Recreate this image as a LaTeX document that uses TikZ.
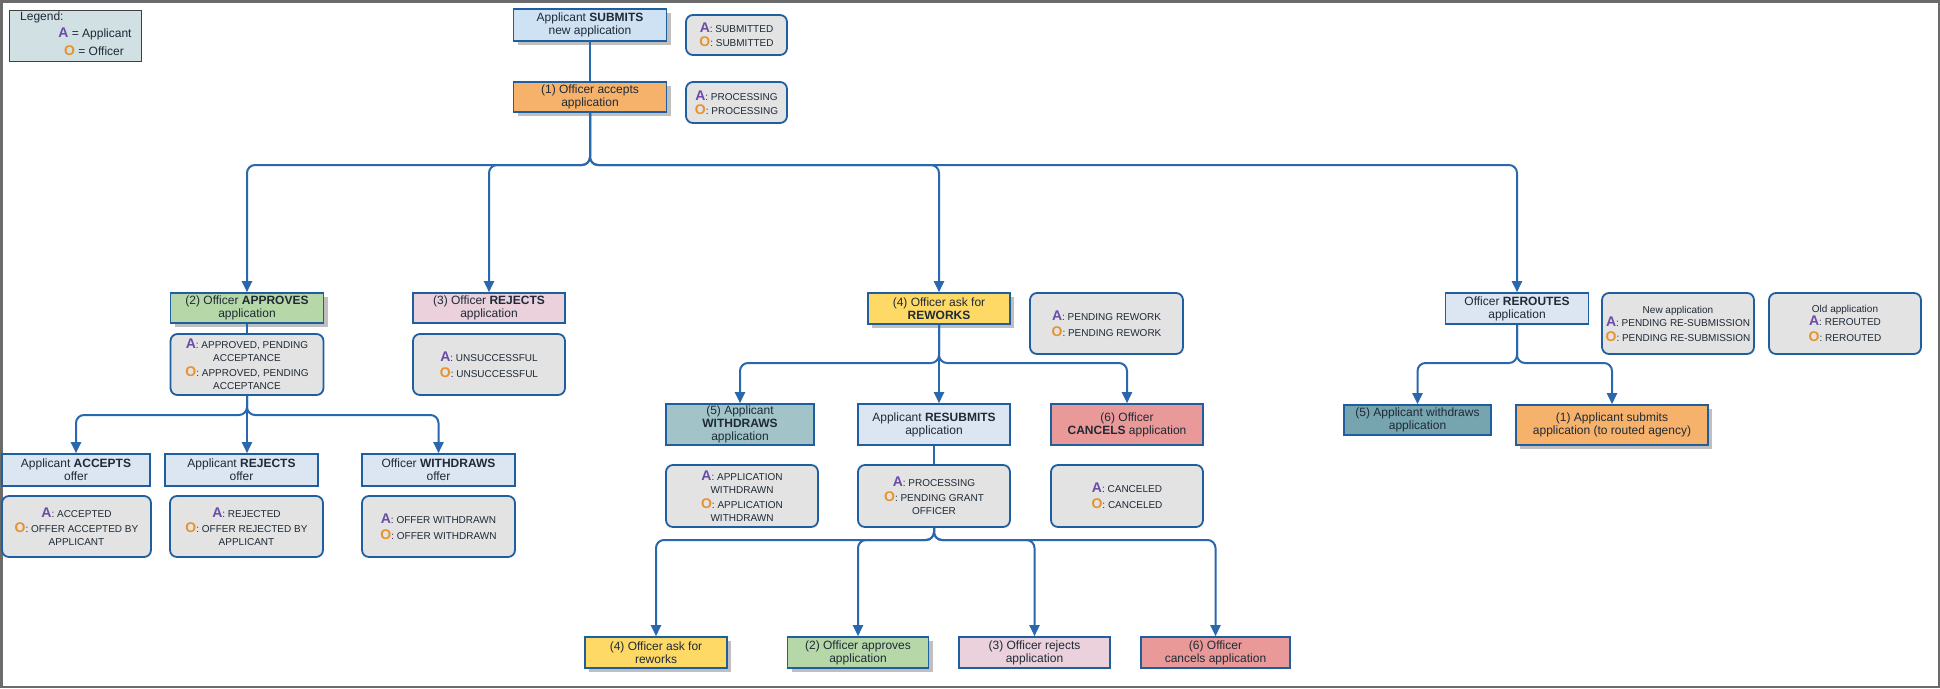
\documentclass[tikz,border=0pt]{standalone}
\usepackage{fontspec}
\setmainfont{Liberation Sans}
\usetikzlibrary{arrows.meta,shadows}
\definecolor{boxblue}{HTML}{1F5E9F}
\definecolor{lineblue}{HTML}{2A68AE}
\definecolor{statgray}{HTML}{E3E3E3}
\definecolor{txt}{HTML}{1F2A36}
\definecolor{apurple}{HTML}{6A4BA8}
\definecolor{oorange}{HTML}{E8912D}
\definecolor{fsub}{HTML}{CFE2F3}
\definecolor{flight}{HTML}{DCE6F2}
\definecolor{forange}{HTML}{F6B26B}
\definecolor{fgreen}{HTML}{B6D7A8}
\definecolor{fpink}{HTML}{EAD1DC}
\definecolor{fyellow}{HTML}{FFD966}
\definecolor{fteal}{HTML}{A2C4C9}
\definecolor{fdteal}{HTML}{76A5AF}
\definecolor{fred}{HTML}{EA9999}
\definecolor{flegend}{HTML}{D0E0E3}
\definecolor{frame}{HTML}{6B6B6B}
\newcommand{\lblA}{{\fontsize{14}{14}\selectfont\bfseries\color{apurple}A}}
\newcommand{\lblO}{{\fontsize{14}{14}\selectfont\bfseries\color{oorange}O}}
\tikzset{
  sz/.style 2 args={minimum width=#1pt, minimum height=#2pt},
  box/.style={draw=boxblue, line width=1.6pt, inner sep=1pt, align=center,
    font=\fontsize{12}{13}\selectfont, text=txt},
  shad/.style={drop shadow={shadow xshift=4pt, shadow yshift=-4pt, fill=black!25, opacity=1}},
  stat/.style={draw=boxblue, line width=1.8pt, rounded corners=7pt, fill=statgray,
    align=center, font=\fontsize{10}{13}\selectfont, text=txt, inner sep=1pt},
  conn/.style={draw=lineblue, line width=2pt, rounded corners=8pt},
  arr/.style={conn, -{Triangle[length=11pt,width=10pt]}},
}
\begin{document}
\begin{tikzpicture}[x=1pt,y=-1pt]
\useasboundingbox (0,0) rectangle (1940,688);
\fill[white] (0,0) rectangle (1940,688);
\draw[frame, line width=2.5pt] (1.25,1.25) rectangle (1938.75,686.75);

% legend
\node[draw=black!75, line width=1pt, fill=flegend, sz={132}{51}] (leg) at (75,35.5) {};
\node[anchor=west, text=txt, font=\fontsize{12}{13}\selectfont, inner sep=0pt] (legt) at (20,17) {Legend:};
\node[text=txt, font=\fontsize{12}{13}\selectfont, inner sep=0pt] (lega) at (95,34) {\lblA{} = Applicant};
\node[text=txt, font=\fontsize{12}{13}\selectfont, inner sep=0pt] (lego) at (94,51) {\lblO{} = Officer};

% top
\node[box, shad, fill=fsub, sz={153}{32}] (sub) at (590,25) {Applicant \textbf{SUBMITS}\\new application};
\node[stat, sz={101}{40}] (st1) at (736.5,35) {\lblA: SUBMITTED\\[1pt]\lblO: SUBMITTED};
\node[box, shad, fill=forange, sz={153}{30}] (acc) at (590,97) {(1) Officer accepts\\application};
\node[stat, sz={101}{41}] (st2) at (736.5,102.5) {\lblA: PROCESSING\\[1pt]\lblO: PROCESSING};

% level 2
\node[box, shad, fill=fgreen, sz={153}{30}] (appr) at (247,308) {(2) Officer \textbf{APPROVES}\\application};
\node[stat, sz={153}{61}] (stap) at (247,364.5) {\lblA: APPROVED, PENDING\\ACCEPTANCE\\[2pt]\lblO: APPROVED, PENDING\\ACCEPTANCE};
\node[box, fill=fpink, sz={152}{30}] (rej) at (489,308) {(3) Officer \textbf{REJECTS}\\application};
\node[stat, sz={152}{61}] (strej) at (489,364.5) {\lblA: UNSUCCESSFUL\\[3pt]\lblO: UNSUCCESSFUL};
\node[box, shad, fill=fyellow, sz={142}{31}] (rew) at (939,308.5) {(4) Officer ask for\\\textbf{REWORKS}};
\node[stat, sz={153}{61}] (strew) at (1106.5,323.5) {\lblA: PENDING REWORK\\[3pt]\lblO: PENDING REWORK};
\node[box, fill=flight, sz={143}{31}] (rer) at (1517,308.5) {Officer \textbf{REROUTES}\\application};
\node[stat, sz={152}{61}] (stnew) at (1678,323.5) {{\fontsize{10}{12}\selectfont New application}\\\lblA: PENDING RE-SUBMISSION\\[2pt]\lblO: PENDING RE-SUBMISSION};
\node[stat, sz={152}{61}] (stold) at (1845,323.5) {{\fontsize{10}{12}\selectfont Old application}\\\lblA: REROUTED\\[3pt]\lblO: REROUTED};

% approves children
\node[box, fill=flight, sz={148}{32}] (accoff) at (76,470) {Applicant \textbf{ACCEPTS}\\offer};
\node[stat, sz={149}{61}] (stacc) at (76.5,526.5) {\lblA: ACCEPTED\\[2pt]\lblO: OFFER ACCEPTED BY\\APPLICANT};
\node[box, fill=flight, sz={153}{32}] (rejoff) at (241.5,470) {Applicant \textbf{REJECTS}\\offer};
\node[stat, sz={153}{61}] (strejoff) at (246.5,526.5) {\lblA: REJECTED\\[2pt]\lblO: OFFER REJECTED BY\\APPLICANT};
\node[box, fill=flight, sz={153}{32}] (wdoff) at (438.5,470) {Officer \textbf{WITHDRAWS}\\offer};
\node[stat, sz={153}{61}] (stwd) at (438.5,526.5) {\lblA: OFFER WITHDRAWN\\[3pt]\lblO: OFFER WITHDRAWN};

% rework children
\node[box, fill=fteal, sz={148}{41}] (wda) at (740,424.5) {(5) Applicant\\\textbf{WITHDRAWS}\\application};
\node[box, fill=flight, sz={152}{41}] (resub) at (934,424.5) {Applicant \textbf{RESUBMITS}\\application};
\node[box, fill=fred, sz={152}{41}] (canc) at (1127,424.5) {(6) Officer\\\textbf{CANCELS} application};
\node[stat, sz={152}{62}] (stwda) at (742,496) {\lblA: APPLICATION\\WITHDRAWN\\[2pt]\lblO: APPLICATION\\WITHDRAWN};
\node[stat, sz={152}{62}] (stres) at (934,496) {\lblA: PROCESSING\\[2pt]\lblO: PENDING GRANT\\OFFICER};
\node[stat, sz={152}{62}] (stcan) at (1127,496) {\lblA: CANCELED\\[3pt]\lblO: CANCELED};

% resubmit children
\node[box, shad, fill=fyellow, sz={142}{31}] (b4) at (656,652.5) {(4) Officer ask for\\reworks};
\node[box, shad, fill=fgreen, sz={141}{31}] (b2) at (858,652.5) {(2) Officer approves\\application};
\node[box, fill=fpink, sz={151}{31}] (b3) at (1034.5,652.5) {(3) Officer rejects\\application};
\node[box, fill=fred, sz={149}{31}] (b6) at (1215.5,652.5) {(6) Officer\\cancels application};

% reroute children
\node[box, fill=fdteal, sz={147}{30}] (wdr) at (1417.5,420) {(5) Applicant withdraws\\application};
\node[box, shad, fill=forange, sz={192}{40}] (subr) at (1612,425) {(1) Applicant submits\\application (to routed agency)};

% split points
\coordinate (m1) at (590,165);
\coordinate (m2) at (247,415);
\coordinate (m3) at (939,363);
\coordinate (m4) at (934,540);
\coordinate (m5) at (1517,363);

% connectors
\draw[conn] (sub.south) -- (acc.north);
\draw[arr] (acc.south) -- (m1) -| (appr.north);
\draw[arr] (acc.south) -- (m1) -| (rej.north);
\draw[arr] (acc.south) -- (m1) -| (rew.north);
\draw[arr] (acc.south) -- (m1) -| (rer.north);

\draw[conn] (appr.south) -- (stap.north);
\draw[arr] (stap.south) -- (m2) -| (accoff.north);
\draw[arr] (stap.south) -- (m2 |- rejoff.north);
\draw[arr] (stap.south) -- (m2) -| (wdoff.north);

\draw[arr] (rew.south) -- (m3) -| (wda.north);
\draw[arr] (rew.south) -- (rew.south |- resub.north);
\draw[arr] (rew.south) -- (m3) -| (canc.north);

\draw[conn] (resub.south) -- (stres.north);
\draw[arr] (stres.south) -- (m4) -| (b4.north);
\draw[arr] (stres.south) -- (m4) -| (b2.north);
\draw[arr] (stres.south) -- (m4) -| (b3.north);
\draw[arr] (stres.south) -- (m4) -| (b6.north);

\draw[arr] (rer.south) -- (m5) -| (wdr.north);
\draw[arr] (rer.south) -- (m5) -| (subr.north);
\end{tikzpicture}
\end{document}
